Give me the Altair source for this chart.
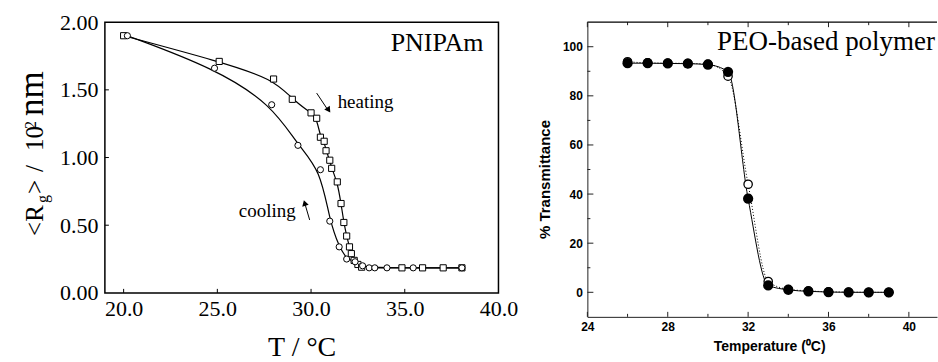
import altair as alt
import pandas as pd

# ---------------- Left panel: PNIPAm (radius of gyration) ----------------
heat_T = [20.0, 25.1, 28.0, 29.0, 30.0, 30.3, 30.5, 30.7, 30.8, 31.0, 31.1, 31.4,
          31.6, 31.75, 31.9, 32.05, 32.15, 32.3, 32.5, 32.7, 34.85, 35.95, 37.05, 38.05]
heat_R = [1.90, 1.71, 1.58, 1.43, 1.33, 1.29, 1.15, 1.12, 1.05, 0.98, 0.92, 0.82,
          0.66, 0.52, 0.42, 0.34, 0.29, 0.24, 0.21, 0.19, 0.185, 0.185, 0.185, 0.185]
cool_T = [20.2, 24.85, 27.9, 29.3, 30.5, 31.0, 31.5, 31.9, 32.35, 32.75, 33.1, 33.4,
          34.05, 35.45, 38.05]
cool_R = [1.90, 1.66, 1.39, 1.09, 0.91, 0.53, 0.34, 0.25, 0.23, 0.20, 0.185, 0.185,
          0.185, 0.185, 0.185]
left_xlabels = [20, 25, 30, 35, 40]
left_ylabels = [0.0, 0.5, 1.0, 1.5, 2.0]
left_xticks = [20, 25, 30, 35]
left_yticks = [0.5, 1.0, 1.5]
# y-axis title pieces: "<R", subscript "g", ">", "/", "10", superscript "2", "nm"
ytitle_parts = ["<R", "g", ">", "/", "10", "2", "nm"]

# ---------------- Right panel: PEO-based polymer (transmittance) ----------------
peo_T = [26, 27, 28, 29, 30, 31, 32, 33, 34, 35, 36, 37, 38, 39]
peo_filled = [93.3, 93.3, 93.2, 93.1, 92.7, 89.8, 38.1, 2.8, 1.0, 0.4, 0.1, 0.0, 0.0, 0.0]
peo_open = [93.9, 93.4, 93.3, 93.2, 92.9, 88.0, 44.0, 4.4, 1.2, 0.6, 0.2, 0.1, 0.0, 0.0]
right_xlabels = [24, 28, 32, 36, 40]
right_xminor = [26, 30, 34, 38]
right_ylabels = [0, 20, 40, 60, 80, 100]
right_yminor = [10, 30, 50, 70, 90]

SERIF = "Liberation Serif"
SANS = "Liberation Sans"
LW, LH = 394, 271
RW, RH = 350, 295

# ---------- left ----------
heat = pd.DataFrame({"x": heat_T, "y": heat_R})
cool = pd.DataFrame({"x": cool_T, "y": cool_R})
lxs = alt.Scale(domain=[19, 40], nice=False, zero=False)
lys = alt.Scale(domain=[0, 2], nice=False, zero=False)

lx_axis = alt.Axis(values=left_xlabels, format=".1f", title="T / °C", labelFont=SERIF,
                   labelFontSize=22, labelColor="black", labelPadding=6, tickSize=0,
                   domain=False, grid=False, labelFlush=False, titleFont=SERIF,
                   titleFontSize=28, titleFontWeight="normal", titleColor="black",
                   titleY=63, titleBaseline="alphabetic")
ly_axis = alt.Axis(values=left_ylabels, format=".2f", title=None, labelFont=SERIF,
                   labelFontSize=22, labelColor="black", labelPadding=7, tickSize=0,
                   domain=False, grid=False, labelFlush=False)
LX = alt.X("x:Q", scale=lxs, axis=lx_axis)
LY = alt.Y("y:Q", scale=lys, axis=ly_axis)

heat_line = alt.Chart(heat).mark_line(color="black", strokeWidth=1.2, interpolate="basis").encode(
    x=LX, y=LY)
cool_line = alt.Chart(cool).mark_line(color="black", strokeWidth=1.2, interpolate="basis").encode(
    x=LX, y=LY)
heat_pts = alt.Chart(heat).mark_point(shape="square", size=38, filled=True, fill="white",
                                      stroke="black", strokeWidth=1, opacity=1).encode(x=LX, y=LY)
cool_pts = alt.Chart(cool).mark_point(shape="circle", size=38, filled=True, fill="white",
                                      stroke="black", strokeWidth=1, opacity=1).encode(x=LX, y=LY)
lxt = alt.Chart(pd.DataFrame({"x": left_xticks})).mark_rule(color="black", strokeWidth=1).encode(
    x=LX, y=alt.value(LH), y2=alt.value(LH - 4))
lyt = alt.Chart(pd.DataFrame({"y": left_yticks})).mark_rule(color="black", strokeWidth=1).encode(
    y=LY, x=alt.value(0), x2=alt.value(4))

one = pd.DataFrame({"t": ["PNIPAm"]})
pnipam = alt.Chart(one).mark_text(font=SERIF, fontSize=26, align="right", baseline="alphabetic",
                                  color="black").encode(x=alt.value(379), y=alt.value(29), text="t:N")
lab_h = alt.Chart(pd.DataFrame({"t": ["heating"]})).mark_text(
    font=SERIF, fontSize=19, align="left", baseline="middle", color="black").encode(
    x=alt.value(233), y=alt.value(80), text="t:N")
lab_c = alt.Chart(pd.DataFrame({"t": ["cooling"]})).mark_text(
    font=SERIF, fontSize=19, align="left", baseline="middle", color="black").encode(
    x=alt.value(134), y=alt.value(189), text="t:N")
arr_h = alt.Chart(one).mark_rule(color="black", strokeWidth=1).encode(
    x=alt.value(212), y=alt.value(71), x2=alt.value(224), y2=alt.value(89))
head_h = alt.Chart(one).mark_point(shape="triangle-up", size=45, filled=True, color="black",
                                   opacity=1, angle=146).encode(x=alt.value(224), y=alt.value(88))
arr_c = alt.Chart(one).mark_rule(color="black", strokeWidth=1).encode(
    x=alt.value(205), y=alt.value(198), x2=alt.value(200), y2=alt.value(181))
head_c = alt.Chart(one).mark_point(shape="triangle-up", size=45, filled=True, color="black",
                                   opacity=1, angle=344).encode(x=alt.value(200), y=alt.value(181))


def ypart(i, size, bx, by):
    d = pd.DataFrame({"t": [ytitle_parts[i]]})
    return alt.Chart(d).mark_text(font=SERIF, fontSize=size, angle=270, align="left",
                                  baseline="alphabetic", color="black").encode(
        x=alt.value(bx), y=alt.value(by), text="t:N")


BX = -61.7
ytitle = [
    ypart(0, 25, BX, 214),          # <R
    ypart(1, 16, BX + 4.5, 181),    # g (subscript)
    ypart(2, 25, BX, 172),          # >
    ypart(3, 25, BX, 150),          # /
    ypart(4, 25, BX, 129),          # 10
    ypart(5, 16, BX - 7, 107),      # 2 (superscript)
    ypart(6, 35, BX, 94),           # nm
]

left = alt.layer(heat_line, cool_line, heat_pts, cool_pts, lxt, lyt, pnipam, lab_h, lab_c,
                 arr_h, head_h, arr_c, head_c, *ytitle).properties(
    width=LW, height=LH, view=alt.ViewBackground(stroke="black", strokeWidth=1.5))

# ---------- right ----------
peo_f = pd.DataFrame({"x": peo_T, "y": peo_filled})
peo_o = pd.DataFrame({"x": peo_T, "y": peo_open})
rxs = alt.Scale(domain=[24, 41.4], nice=False, zero=False)
rys = alt.Scale(domain=[-10, 110], nice=False, zero=False)
AX = "#222222"
rx_axis = alt.Axis(values=right_xlabels, format="d", title="Temperature (⁰C)", labelFont=SANS,
                   labelFontSize=12, labelFontWeight="bold", labelColor="black", labelPadding=5,
                   tickSize=0, domain=True, domainColor=AX, domainWidth=1, grid=False,
                   labelFlush=False, titleFont=SANS, titleFontSize=14, titleFontWeight="bold",
                   titleColor="black", titleX=182, titleY=34, titleBaseline="alphabetic")
ry_axis = alt.Axis(values=right_ylabels, format="d", title="% Transmittance", labelFont=SANS,
                   labelFontSize=12, labelFontWeight="bold", labelColor="black", labelPadding=5,
                   tickSize=0, domain=True, domainColor=AX, domainWidth=1, grid=False,
                   labelFlush=False, titleFont=SANS, titleFontSize=15, titleFontWeight="bold",
                   titleColor="black", titleX=-38, titleY=157, titleBaseline="alphabetic")
RX = alt.X("x:Q", scale=rxs, axis=rx_axis)
RY = alt.Y("y:Q", scale=rys, axis=ry_axis)

o_line = alt.Chart(peo_o).mark_line(color="black", strokeWidth=1, strokeDash=[1, 2],
                                    interpolate="monotone").encode(x=RX, y=RY)
f_line = alt.Chart(peo_f).mark_line(color="black", strokeWidth=1, interpolate="monotone").encode(
    x=RX, y=RY)
o_pts = alt.Chart(peo_o).mark_point(shape="circle", size=70, filled=True, fill="white",
                                    stroke="black", strokeWidth=1.3, opacity=1).encode(x=RX, y=RY)
f_pts = alt.Chart(peo_f).mark_point(shape="circle", size=105, filled=True, color="black",
                                    opacity=1).encode(x=RX, y=RY)
rb_major = alt.Chart(pd.DataFrame({"x": right_xlabels})).mark_rule(color=AX).encode(
    x=RX, y=alt.value(RH), y2=alt.value(RH - 5))
rb_minor = alt.Chart(pd.DataFrame({"x": right_xminor})).mark_rule(color=AX).encode(
    x=RX, y=alt.value(RH), y2=alt.value(RH - 3))
rt_major = alt.Chart(pd.DataFrame({"x": right_xlabels})).mark_rule(color=AX).encode(
    x=RX, y=alt.value(0), y2=alt.value(5))
rt_minor = alt.Chart(pd.DataFrame({"x": right_xminor})).mark_rule(color=AX).encode(
    x=RX, y=alt.value(0), y2=alt.value(3))
rl_major = alt.Chart(pd.DataFrame({"y": right_ylabels})).mark_rule(color=AX).encode(
    y=RY, x=alt.value(0), x2=alt.value(6))
rl_minor = alt.Chart(pd.DataFrame({"y": right_yminor})).mark_rule(color=AX).encode(
    y=RY, x=alt.value(0), x2=alt.value(3))
top_line = alt.Chart(one).mark_rule(color="black", strokeWidth=1.2).encode(
    x=alt.value(0), x2=alt.value(RW), y=alt.value(0))
peo_lab = alt.Chart(pd.DataFrame({"t": ["PEO-based polymer"]})).mark_text(
    font=SERIF, fontSize=27, align="right", baseline="alphabetic", color="black").encode(
    x=alt.value(RW - 2), y=alt.value(28), text="t:N")

right = alt.layer(o_line, f_line, o_pts, f_pts, rb_major, rb_minor, rt_major, rt_minor,
                  rl_major, rl_minor, top_line, peo_lab).properties(
    width=RW, height=RH, view=alt.ViewBackground(stroke=None))

chart = alt.hconcat(left, right, spacing=19).properties(
    padding={"left": 14, "top": 10, "right": 0, "bottom": 0}
).configure(background="white")

chart.save("out.html", embed_options={"renderer": "svg", "actions": False})
